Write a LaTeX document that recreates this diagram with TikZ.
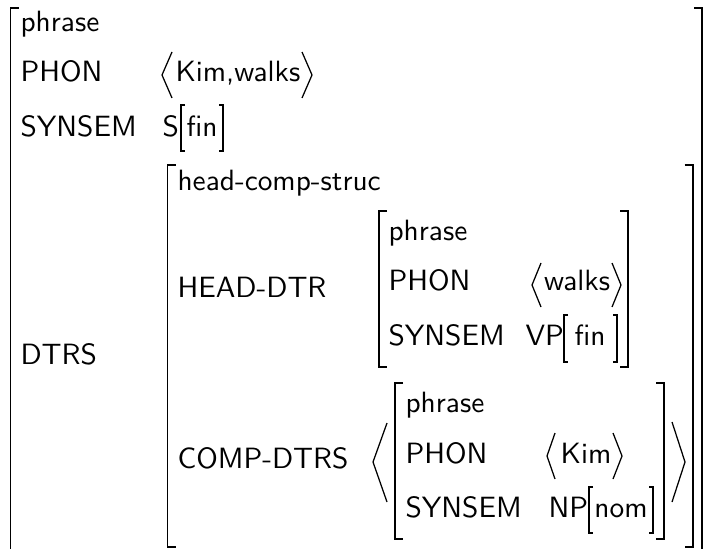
\documentclass[tikz,border=0pt]{standalone}
\usepackage{tikz}
\newcommand{\pxUnit}{0.358pt}
\newcommand{\bigRule}{0.7pt}
\newcommand{\smallRule}{0.4pt}
\newcommand{\angRule}{0.45pt}
\newcommand{\hookLen}{8}
\newcommand{\avmFont}{\sffamily\fontsize{10.5}{12.6}\selectfont}

\begin{document}
\begin{tikzpicture}[x=\pxUnit, y=-\pxUnit,
    txt/.style={anchor=base west, inner sep=0pt, font=\avmFont},
    mid/.style={anchor=base, inner sep=0pt, font=\avmFont},
    brk/.style={line width=\bigRule},
    sbrk/.style={line width=\smallRule},
    ang/.style={line width=\angRule, line join=miter}]
\useasboundingbox (0,0) rectangle (706,548);
\clip (0,0) rectangle (706,548);
% outer phrase
\draw[brk] (10.5+\hookLen,8) -- (10.5,8) -- (10.5,552) -- (10.5+\hookLen,552);
\draw[brk] (702-\hookLen,8) -- (702,8) -- (702,552) -- (702-\hookLen,552);
\node[txt] (outerType) at (20,32) {phrase};
\node[txt] (outerPhon) at (20,82) {PHON};
\node[txt] (outerSynsem) at (20,137) {SYNSEM};
\node[txt] (outerDtrs) at (20,364) {DTRS};
\draw[ang] (172,52) -- (162,75) -- (172,98);
\node[txt] (kimWalks) at (175,82) {Kim,walks};
\draw[ang] (302,52) -- (312,75) -- (302,98);
\node[txt] (sCat) at (162,137) {S};
\draw[sbrk] (185,105) -- (181,105) -- (181,151) -- (185,151);
\node[mid] (sFin) at (202,137) {fin};
\draw[sbrk] (219,105) -- (223,105) -- (223,151) -- (219,151);
% head-comp-struc
\draw[brk] (167.5+\hookLen,165) -- (167.5,165) -- (167.5,547) -- (167.5+\hookLen,547);
\draw[brk] (692.5-\hookLen,165) -- (692.5,165) -- (692.5,547) -- (692.5-\hookLen,547);
\node[txt] (strucType) at (177,190) {head-comp-struc};
\node[txt] (headDtr) at (177,297) {HEAD-DTR};
\node[txt] (compDtrs) at (177,468) {COMP-DTRS};
% head daughter
\draw[brk] (379+\hookLen,211) -- (379,211) -- (379,367) -- (379+\hookLen,367);
\draw[brk] (628-\hookLen,211) -- (628,211) -- (628,367) -- (628-\hookLen,367);
\node[txt] (headType) at (388,240) {phrase};
\node[txt] (headPhon) at (388,290) {PHON};
\node[txt] (headSynsem) at (388,345) {SYNSEM};
\draw[ang] (541,263) -- (532,285) -- (541,307);
\node[mid] (walks) at (577,290) {walks};
\draw[ang] (612,263) -- (621,285) -- (612,307);
\node[txt] (vpCat) at (525,345) {VP};
\draw[sbrk] (568,315) -- (564,315) -- (564,362) -- (568,362);
\node[mid] (vpFin) at (590,345) {fin};
\draw[sbrk] (613,315) -- (617,315) -- (617,362) -- (613,362);
% complement daughters
\draw[ang] (387,423) -- (373,462) -- (387,502);
\draw[brk] (395+\hookLen,383) -- (395,383) -- (395,539) -- (395+\hookLen,539);
\draw[brk] (664-\hookLen,383) -- (664,383) -- (664,539) -- (664-\hookLen,539);
\draw[ang] (672,422) -- (685,462) -- (672,502);
\node[txt] (compType) at (405,412) {phrase};
\node[txt] (compPhon) at (405,463) {PHON};
\node[txt] (compSynsem) at (405,517) {SYNSEM};
\draw[ang] (555,433) -- (547,456) -- (555,479);
\node[mid] (kim) at (586,463) {Kim};
\draw[ang] (613,433) -- (622,456) -- (613,479);
\node[txt] (npCat) at (548,517) {NP};
\draw[sbrk] (593,487) -- (589,487) -- (589,533) -- (593,533);
\node[mid] (npNom) at (621,517) {nom};
\draw[sbrk] (649,487) -- (653,487) -- (653,533) -- (649,533);
\end{tikzpicture}
\end{document}
